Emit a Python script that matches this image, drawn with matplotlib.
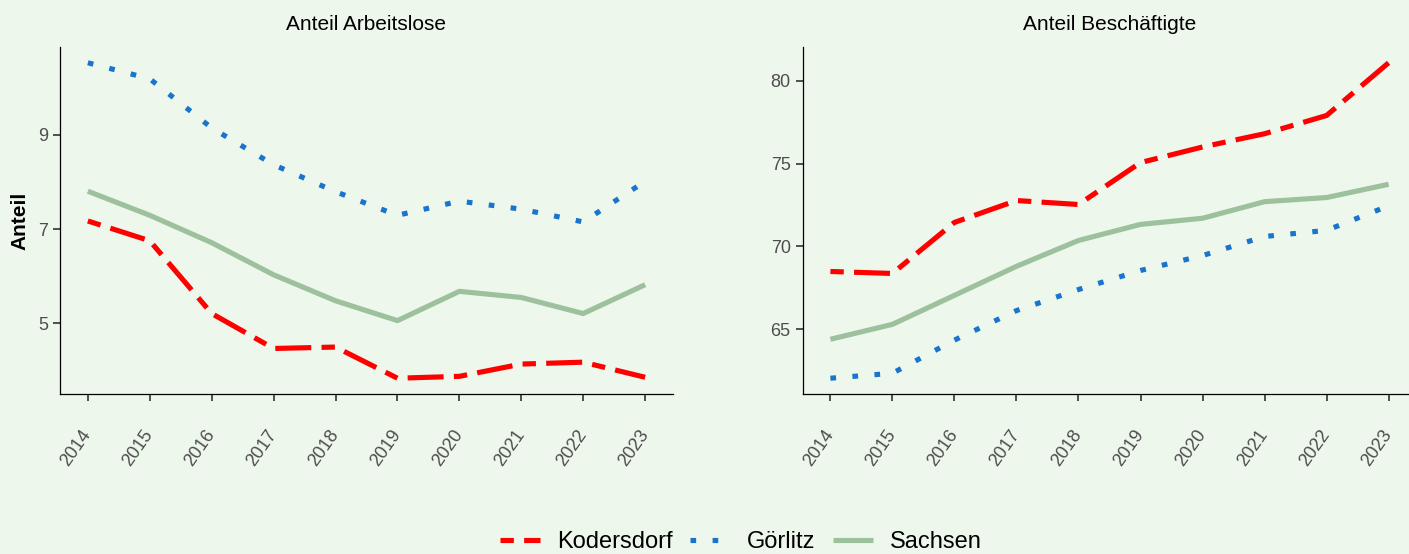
import matplotlib
matplotlib.use("Agg")
import matplotlib.pyplot as plt
from matplotlib.lines import Line2D

plt.rcParams['font.family'] = ['Liberation Sans', 'DejaVu Sans']

# Data
years = [2014, 2015, 2016, 2017, 2018, 2019, 2020, 2021, 2022, 2023]
regions = ['Kodersdorf', 'Görlitz', 'Sachsen']

# Anteil Arbeitslose
alo_kodersdorf = [7.17, 6.75, 5.21, 4.47, 4.50, 3.84, 3.88, 4.14, 4.18, 3.86]
alo_goerlitz = [10.52, 10.18, 9.14, 8.36, 7.79, 7.29, 7.59, 7.42, 7.15, 8.01]
alo_sachsen = [7.80, 7.29, 6.71, 6.03, 5.48, 5.06, 5.68, 5.55, 5.21, 5.82]

# Anteil Beschäftigte
bes_kodersdorf = [68.49, 68.37, 71.45, 72.77, 72.53, 75.06, 76.0, 76.8, 77.9, 81.08]
bes_goerlitz = [62.05, 62.35, 64.35, 66.13, 67.4, 68.55, 69.45, 70.6, 70.97, 72.45]
bes_sachsen = [64.4, 65.3, 67.05, 68.8, 70.36, 71.33, 71.7, 72.7, 72.95, 73.75]

bg = '#EEF7EC'
colors = {'Kodersdorf': '#FF0000', 'Görlitz': '#1874CD', 'Sachsen': '#9DC09D'}
styles = {'Kodersdorf': (0, (2.6, 2, 7, 2)),
          'Görlitz': (0, (1.1, 3.2)),
          'Sachsen': '-'}
lw = 3.7

fig = plt.figure(figsize=(14.09, 5.54), dpi=100, facecolor=bg)
W, H = 1409, 554
ax1 = fig.add_axes([60 / W, 1 - 394 / H, 613 / W, 347 / H])
ax2 = fig.add_axes([802.5 / W, 1 - 394 / H, 614 / W, 347 / H])

panels = [
    (ax1, 'Anteil Arbeitslose', [alo_kodersdorf, alo_goerlitz, alo_sachsen], [5, 7, 9]),
    (ax2, 'Anteil Beschäftigte', [bes_kodersdorf, bes_goerlitz, bes_sachsen], [65, 70, 75, 80]),
]

for ax, title, series, yt in panels:
    ax.set_facecolor(bg)
    for name, vals in zip(regions, series):
        ax.plot(years, vals, color=colors[name], linestyle=styles[name],
                linewidth=lw, dash_capstyle='butt', solid_capstyle='butt')
    ax.margins(x=0.05, y=0.05)
    ax.set_xticks(years)
    ax.set_xticklabels([str(y) for y in years], rotation=55, ha='right',
                       va='center', rotation_mode='anchor')
    ax.set_yticks(yt)
    ax.tick_params(axis='both', colors='#333333', labelcolor='#4D4D4D',
                   labelsize=13, length=5, width=1.2)
    ax.tick_params(axis='x', pad=22)
    for s in ['top', 'right']:
        ax.spines[s].set_visible(False)
    for s in ['left', 'bottom']:
        ax.spines[s].set_linewidth(0.9)
        ax.spines[s].set_color('black')
    ax.set_title(title, fontsize=15, pad=12)

ax1.set_ylabel('Anteil', fontsize=15, fontweight='bold', labelpad=6)

handles = [Line2D([], [], color=colors[n], linestyle=styles[n], linewidth=lw,
                  dash_capstyle='butt', solid_capstyle='butt') for n in regions]
fig.legend(handles, regions, loc='center', bbox_to_anchor=(741 / W, 1 - 542 / H),
           ncol=3, frameon=False, fontsize=17, handlelength=1.7,
           handletextpad=0.7, columnspacing=0.75)

fig.savefig('out.png', dpi=100, facecolor=bg)
